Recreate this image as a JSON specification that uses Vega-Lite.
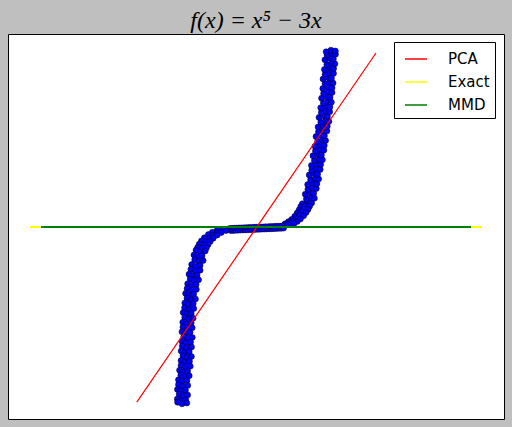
{
  "$schema": "https://vega.github.io/schema/vega-lite/v6.json",
  "width": 496,
  "height": 385,
  "autosize": {"type": "none"},
  "padding": {"left": 8, "top": 34, "right": 8, "bottom": 8},
  "background": "#bfbfbf",
  "config": {"view": {"stroke": "black", "strokeWidth": 1, "fill": "white"}},
  "title": {"text": "f(x) = x⁵ − 3x", "font": "Liberation Serif", "fontStyle": "italic", "fontWeight": "normal", "fontSize": 24, "color": "black", "offset": 1},
  "datasets": {
    "pts": [
      {"x":0.58,"y":0.29},{"x":0.64,"y":0.31},{"x":0.695,"y":0.30},
      {"x":0.63,"y":0.35},{"x":0.69,"y":0.37},{"x":0.73,"y":0.36},
      {"x":0.616,"y":0.41},{"x":0.671,"y":0.43},{"x":0.721,"y":0.42},
      {"x":0.649,"y":0.47},{"x":0.709,"y":0.49},{"x":0.754,"y":0.48},
      {"x":0.646,"y":0.53},{"x":0.706,"y":0.55},{"x":0.761,"y":0.54},
      {"x":0.683,"y":0.59},{"x":0.743,"y":0.61},{"x":0.783,"y":0.60},
      {"x":0.665,"y":0.65},{"x":0.72,"y":0.67},{"x":0.77,"y":0.66},
      {"x":0.697,"y":0.71},{"x":0.757,"y":0.73},{"x":0.802,"y":0.72},
      {"x":0.693,"y":0.77},{"x":0.753,"y":0.79},{"x":0.808,"y":0.78},
      {"x":0.73,"y":0.83},{"x":0.79,"y":0.85},{"x":0.83,"y":0.84},
      {"x":0.712,"y":0.89},{"x":0.767,"y":0.91},{"x":0.817,"y":0.90},
      {"x":0.743,"y":0.95},{"x":0.803,"y":0.97},{"x":0.848,"y":0.96},
      {"x":0.738,"y":1.01},{"x":0.798,"y":1.03},{"x":0.853,"y":1.02},
      {"x":0.77,"y":1.07},{"x":0.83,"y":1.09},{"x":0.87,"y":1.08},
      {"x":0.75,"y":1.13},{"x":0.805,"y":1.15},{"x":0.855,"y":1.14},
      {"x":0.781,"y":1.19},{"x":0.841,"y":1.21},{"x":0.886,"y":1.20},
      {"x":0.776,"y":1.25},{"x":0.836,"y":1.27},{"x":0.891,"y":1.26},
      {"x":0.811,"y":1.31},{"x":0.871,"y":1.33},{"x":0.911,"y":1.32},
      {"x":0.788,"y":1.37},{"x":0.843,"y":1.39},{"x":0.893,"y":1.38},
      {"x":0.816,"y":1.43},{"x":0.876,"y":1.45},{"x":0.921,"y":1.44},
      {"x":0.809,"y":1.49},{"x":0.869,"y":1.51},{"x":0.924,"y":1.50},
      {"x":0.842,"y":1.55},{"x":0.902,"y":1.57},{"x":0.942,"y":1.56},
      {"x":0.82,"y":1.61},{"x":0.875,"y":1.63},{"x":0.925,"y":1.62},
      {"x":0.845,"y":1.67},{"x":0.905,"y":1.69},{"x":0.95,"y":1.68},
      {"x":0.835,"y":1.73},{"x":0.895,"y":1.75},{"x":0.95,"y":1.74},
      {"x":0.863,"y":1.79},{"x":0.923,"y":1.81},{"x":0.963,"y":1.80},
      {"x":0.838,"y":1.85},{"x":0.893,"y":1.87},{"x":0.943,"y":1.86},
      {"x":0.864,"y":1.91},{"x":0.924,"y":1.93},{"x":0.969,"y":1.92},
      {"x":0.855,"y":1.97},{"x":0.915,"y":1.99},{"x":0.97,"y":1.98},
      {"x":0.886,"y":2.03},{"x":0.946,"y":2.05},{"x":0.986,"y":2.04},
      {"x":0.862,"y":2.09},{"x":0.917,"y":2.11},{"x":0.967,"y":2.10},
      {"x":0.888,"y":2.15},{"x":0.948,"y":2.17},{"x":0.993,"y":2.16},
      {"x":0.877,"y":2.19},{"x":0.937,"y":2.21},{"x":0.992,"y":2.20},
      {"x":0.56,"y":0.255},{"x":0.615,"y":0.265},{"x":0.67,"y":0.26},
      {"x":0.54,"y":0.215},{"x":0.595,"y":0.225},{"x":0.65,"y":0.22},
      {"x":0.515,"y":0.175},{"x":0.57,"y":0.185},{"x":0.625,"y":0.18},
      {"x":0.485,"y":0.135},{"x":0.54,"y":0.145},{"x":0.595,"y":0.14},
      {"x":0.445,"y":0.095},{"x":0.50,"y":0.105},{"x":0.555,"y":0.10},
      {"x":0.405,"y":0.065},{"x":0.46,"y":0.075},{"x":0.515,"y":0.07},
      {"x":0.365,"y":0.04},{"x":0.42,"y":0.05},{"x":0.475,"y":0.045},
      {"x":0.35,"y":0.02},{"x":0.40,"y":0.03},
      {"x":-0.33,"y":-0.018},{"x":-0.315,"y":-0.044},
      {"x":-0.30,"y":-0.017},{"x":-0.285,"y":-0.043},
      {"x":-0.27,"y":-0.015},{"x":-0.255,"y":-0.041},
      {"x":-0.24,"y":-0.014},{"x":-0.225,"y":-0.040},
      {"x":-0.21,"y":-0.012},{"x":-0.195,"y":-0.038},
      {"x":-0.18,"y":-0.011},{"x":-0.165,"y":-0.037},
      {"x":-0.15,"y":-0.010},{"x":-0.135,"y":-0.036},
      {"x":-0.12,"y":-0.008},{"x":-0.105,"y":-0.034},
      {"x":-0.09,"y":-0.007},{"x":-0.075,"y":-0.033},
      {"x":-0.06,"y":-0.006},{"x":-0.045,"y":-0.032},
      {"x":-0.03,"y":-0.004},{"x":-0.015,"y":-0.030},
      {"x":0.0,"y":-0.003},{"x":0.015,"y":-0.029},
      {"x":0.03,"y":-0.002},{"x":0.045,"y":-0.028},
      {"x":0.06,"y":0.0},{"x":0.075,"y":-0.026},
      {"x":0.09,"y":0.001},{"x":0.105,"y":-0.025},
      {"x":0.12,"y":0.002},{"x":0.135,"y":-0.024},
      {"x":0.15,"y":0.004},{"x":0.165,"y":-0.022},
      {"x":0.18,"y":0.005},{"x":0.195,"y":-0.021},
      {"x":0.21,"y":0.006},{"x":0.225,"y":-0.020},
      {"x":0.24,"y":0.008},{"x":0.255,"y":-0.018},
      {"x":0.27,"y":0.009},{"x":0.285,"y":-0.017},
      {"x":0.30,"y":0.010},{"x":0.315,"y":-0.016},
      {"x":0.33,"y":0.012},{"x":0.345,"y":-0.014},
      {"x":-0.485,"y":-0.04},{"x":-0.43,"y":-0.05},{"x":-0.375,"y":-0.045},
      {"x":-0.545,"y":-0.065},{"x":-0.49,"y":-0.075},{"x":-0.435,"y":-0.07},
      {"x":-0.595,"y":-0.095},{"x":-0.54,"y":-0.105},{"x":-0.485,"y":-0.10},
      {"x":-0.645,"y":-0.135},{"x":-0.59,"y":-0.145},{"x":-0.535,"y":-0.14},
      {"x":-0.683,"y":-0.175},{"x":-0.628,"y":-0.185},{"x":-0.573,"y":-0.18},
      {"x":-0.71,"y":-0.215},{"x":-0.655,"y":-0.225},{"x":-0.60,"y":-0.22},
      {"x":-0.73,"y":-0.255},{"x":-0.675,"y":-0.265},{"x":-0.62,"y":-0.26},
      {"x":-0.75,"y":-0.29},{"x":-0.695,"y":-0.31},{"x":-0.635,"y":-0.30},
      {"x":-0.775,"y":-0.35},{"x":-0.735,"y":-0.37},{"x":-0.675,"y":-0.36},
      {"x":-0.766,"y":-0.41},{"x":-0.716,"y":-0.43},{"x":-0.661,"y":-0.42},
      {"x":-0.804,"y":-0.47},{"x":-0.759,"y":-0.49},{"x":-0.699,"y":-0.48},
      {"x":-0.814,"y":-0.53},{"x":-0.759,"y":-0.55},{"x":-0.699,"y":-0.54},
      {"x":-0.837,"y":-0.59},{"x":-0.797,"y":-0.61},{"x":-0.737,"y":-0.60},
      {"x":-0.823,"y":-0.65},{"x":-0.773,"y":-0.67},{"x":-0.718,"y":-0.66},
      {"x":-0.854,"y":-0.71},{"x":-0.809,"y":-0.73},{"x":-0.749,"y":-0.72},
      {"x":-0.861,"y":-0.77},{"x":-0.806,"y":-0.79},{"x":-0.746,"y":-0.78},
      {"x":-0.88,"y":-0.83},{"x":-0.84,"y":-0.85},{"x":-0.78,"y":-0.84},
      {"x":-0.862,"y":-0.89},{"x":-0.812,"y":-0.91},{"x":-0.757,"y":-0.90},
      {"x":-0.89,"y":-0.95},{"x":-0.845,"y":-0.97},{"x":-0.785,"y":-0.96},
      {"x":-0.893,"y":-1.01},{"x":-0.838,"y":-1.03},{"x":-0.778,"y":-1.02},
      {"x":-0.91,"y":-1.07},{"x":-0.87,"y":-1.09},{"x":-0.81,"y":-1.08},
      {"x":-0.891,"y":-1.13},{"x":-0.841,"y":-1.15},{"x":-0.786,"y":-1.14},
      {"x":-0.915,"y":-1.19},{"x":-0.87,"y":-1.21},{"x":-0.81,"y":-1.20},
      {"x":-0.913,"y":-1.25},{"x":-0.858,"y":-1.27},{"x":-0.798,"y":-1.26},
      {"x":-0.925,"y":-1.31},{"x":-0.885,"y":-1.33},{"x":-0.825,"y":-1.32},
      {"x":-0.902,"y":-1.37},{"x":-0.852,"y":-1.39},{"x":-0.797,"y":-1.38},
      {"x":-0.924,"y":-1.43},{"x":-0.879,"y":-1.45},{"x":-0.819,"y":-1.44},
      {"x":-0.921,"y":-1.49},{"x":-0.866,"y":-1.51},{"x":-0.806,"y":-1.50},
      {"x":-0.935,"y":-1.55},{"x":-0.895,"y":-1.57},{"x":-0.835,"y":-1.56},
      {"x":-0.913,"y":-1.61},{"x":-0.863,"y":-1.63},{"x":-0.808,"y":-1.62},
      {"x":-0.937,"y":-1.67},{"x":-0.892,"y":-1.69},{"x":-0.832,"y":-1.68},
      {"x":-0.937,"y":-1.73},{"x":-0.882,"y":-1.75},{"x":-0.822,"y":-1.74},
      {"x":-0.955,"y":-1.79},{"x":-0.915,"y":-1.81},{"x":-0.855,"y":-1.80},
      {"x":-0.94,"y":-1.85},{"x":-0.89,"y":-1.87},{"x":-0.835,"y":-1.86},
      {"x":-0.969,"y":-1.91},{"x":-0.924,"y":-1.93},{"x":-0.864,"y":-1.92},
      {"x":-0.969,"y":-1.97},{"x":-0.914,"y":-1.99},{"x":-0.854,"y":-1.98},
      {"x":-0.982,"y":-2.03},{"x":-0.942,"y":-2.05},{"x":-0.882,"y":-2.04},
      {"x":-0.96,"y":-2.09},{"x":-0.91,"y":-2.11},{"x":-0.855,"y":-2.10},
      {"x":-0.983,"y":-2.15},{"x":-0.938,"y":-2.17},{"x":-0.878,"y":-2.16},
      {"x":-0.98,"y":-2.19},{"x":-0.925,"y":-2.21},{"x":-0.865,"y":-2.20}
    ],
    "lines": [
      {"method":"PCA","x":-1.49,"y":-2.19},
      {"method":"PCA","x":1.5,"y":2.175},
      {"method":"Exact","x":-2.825,"y":0},
      {"method":"Exact","x":2.825,"y":0},
      {"method":"MMD","x":-2.6875,"y":0},
      {"method":"MMD","x":2.6875,"y":0}
    ]
  },
  "encoding": {
    "x": {"field": "x", "type": "quantitative", "scale": {"domain": [-3.1, 3.1], "nice": false, "zero": false}, "axis": null},
    "y": {"field": "y", "type": "quantitative", "scale": {"domain": [-2.4, 2.4125], "nice": false, "zero": false}, "axis": null}
  },
  "layer": [
    {
      "data": {"name": "pts"},
      "mark": {"type": "point", "shape": "circle", "filled": true, "size": 36, "fill": "#0000ff", "stroke": "black", "strokeWidth": 0.5, "opacity": 1, "fillOpacity": 1}
    },
    {
      "data": {"name": "lines"},
      "transform": [{"filter": "datum.method === 'PCA'"}],
      "mark": {"type": "line", "strokeWidth": 1.2},
      "encoding": {
        "color": {
          "field": "method", "type": "nominal",
          "scale": {"domain": ["PCA", "Exact", "MMD"], "range": ["#ff0000", "#ffff00", "#008000"]},
          "legend": {
            "title": null, "orient": "none", "legendX": 386, "legendY": 8,
            "symbolType": "stroke", "symbolSize": 484, "symbolStrokeWidth": 1.5,
            "labelFont": "DejaVu Sans", "labelFontSize": 15, "labelColor": "black", "labelOffset": 20,
            "fillColor": "white", "strokeColor": "black", "padding": 5, "rowPadding": 3,
            "symbolOffset": 5, "cornerRadius": 0, "symbolOpacity": 1
          }
        }
      }
    },
    {
      "data": {"name": "lines"},
      "transform": [{"filter": "datum.method === 'Exact'"}],
      "mark": {"type": "line", "strokeWidth": 2},
      "encoding": {"color": {"field": "method", "type": "nominal"}}
    },
    {
      "data": {"name": "lines"},
      "transform": [{"filter": "datum.method === 'MMD'"}],
      "mark": {"type": "line", "strokeWidth": 2},
      "encoding": {"color": {"field": "method", "type": "nominal"}}
    }
  ]
}
